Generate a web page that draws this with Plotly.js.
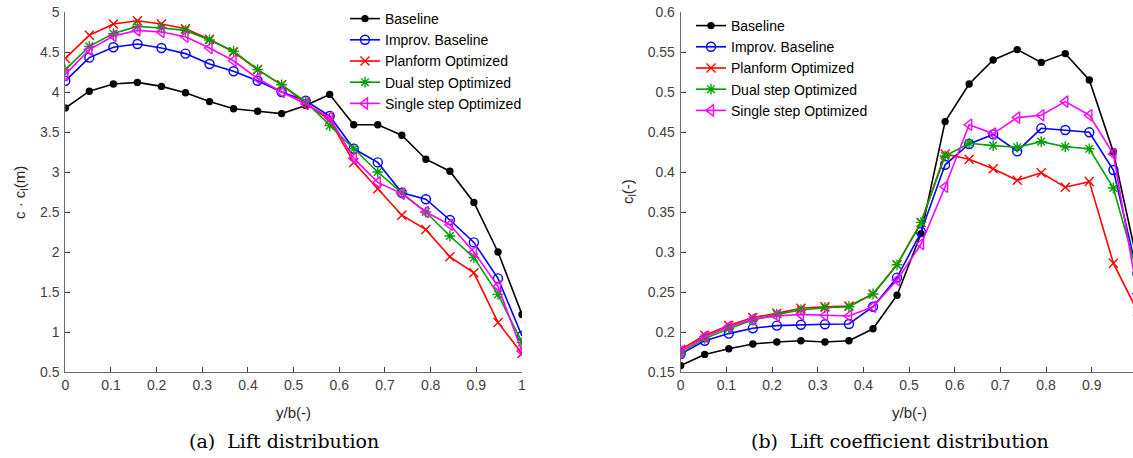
<!DOCTYPE html>
<html>
<head>
<meta charset="utf-8">
<script src="https://cdn.plot.ly/plotly-3.0.1.min.js"></script>
<style>html,body{margin:0;padding:0;background:#fff;}#chart{width:1133px;height:458px;}</style>
</head>
<body>
<div id="chart"></div>
<script>
// span positions y/b (20 stations)
const spanPos = [0, 0.0526, 0.1053, 0.1579, 0.2105, 0.2632, 0.3158, 0.3684, 0.4211, 0.4737,
                 0.5263, 0.5789, 0.6316, 0.6842, 0.7368, 0.7895, 0.8421, 0.8947, 0.9474, 1.0];

const seriesNames = ["Baseline", "Improv. Baseline", "Planform Optimized", "Dual step Optimized", "Single step Optimized"];

// (a) Lift distribution c*cl (m)
const liftBaseline = [3.80, 4.01, 4.10, 4.12, 4.07, 3.99, 3.88, 3.79, 3.76, 3.73,
                      3.83, 3.97, 3.59, 3.59, 3.46, 3.16, 3.01, 2.62, 2.00, 1.22];
const liftImprov   = [4.14, 4.43, 4.56, 4.60, 4.55, 4.48, 4.35, 4.26, 4.14, 4.00,
                      3.89, 3.70, 3.29, 3.12, 2.74, 2.66, 2.40, 2.12, 1.67, 0.95];
const liftPlanform = [4.42, 4.71, 4.85, 4.89, 4.85, 4.79, 4.66, 4.50, 4.28, 4.09,
                      3.86, 3.65, 3.12, 2.79, 2.46, 2.28, 1.94, 1.74, 1.12, 0.73];
const liftDual     = [4.28, 4.57, 4.73, 4.82, 4.80, 4.77, 4.65, 4.51, 4.28, 4.09,
                      3.88, 3.58, 3.29, 3.00, 2.74, 2.50, 2.20, 1.93, 1.47, 0.87];
const liftSingle   = [4.22, 4.53, 4.70, 4.77, 4.75, 4.69, 4.55, 4.39, 4.17, 4.00,
                      3.85, 3.68, 3.17, 2.87, 2.73, 2.50, 2.34, 2.00, 1.57, 0.76];

// (b) Lift coefficient distribution cl (-)
const clBaseline = [0.158, 0.172, 0.179, 0.185, 0.1875, 0.189, 0.1875, 0.189, 0.204, 0.246,
                    0.323, 0.463, 0.510, 0.540, 0.553, 0.537, 0.548, 0.515, 0.425, 0.287];
const clImprov   = [0.1725, 0.189, 0.198, 0.2046, 0.208, 0.209, 0.2096, 0.210, 0.2316, 0.268,
                    0.325, 0.409, 0.435, 0.447, 0.426, 0.4546, 0.4525, 0.4496, 0.4025, 0.273];
const clPlanform = [0.178, 0.196, 0.208, 0.218, 0.2233, 0.2296, 0.2316, 0.2325, 0.2475, 0.284,
                    0.337, 0.4225, 0.416, 0.404, 0.3896, 0.399, 0.381, 0.388, 0.286, 0.226];
const clDual     = [0.173, 0.192, 0.204, 0.215, 0.222, 0.2275, 0.2304, 0.2316, 0.2475, 0.284,
                    0.337, 0.420, 0.436, 0.433, 0.431, 0.438, 0.4316, 0.429, 0.380, 0.273];
const clSingle   = [0.1754, 0.194, 0.2066, 0.216, 0.220, 0.222, 0.221, 0.220, 0.2316, 0.265,
                    0.310, 0.3816, 0.459, 0.448, 0.468, 0.471, 0.488, 0.471, 0.4225, 0.248];

const colors = ["#000000", "#0000ff", "#ff0000", "#00a000", "#ff00ff"];
const markerStyles = [
  {symbol: "circle", size: 6},
  {symbol: "circle-open", size: 9},
  {symbol: "x-thin-open", size: 9},
  {symbol: "asterisk-open", size: 9},
  {symbol: "triangle-left-open", size: 10}
];

const liftData = [liftBaseline, liftImprov, liftPlanform, liftDual, liftSingle];
const clData = [clBaseline, clImprov, clPlanform, clDual, clSingle];

const traces = [];
function mk(yvals, i, xa, ya, leg) {
  return {
    x: spanPos, y: yvals, xaxis: xa, yaxis: ya, type: "scatter", mode: "lines+markers",
    name: seriesNames[i], legend: leg, cliponaxis: true,
    line: {color: colors[i], width: 1.6},
    marker: {symbol: markerStyles[i].symbol, size: markerStyles[i].size, color: colors[i],
             line: {color: colors[i], width: 1.4}}
  };
}
for (let i = 0; i < 5; i++) traces.push(mk(liftData[i], i, "x", "y", "legend"));
for (let i = 0; i < 5; i++) traces.push(mk(clData[i], i, "x2", "y2", "legend2"));

const H = 458, W = 1133;
const yTop = 12, yBot = 372;
const ydom = [(H - yBot) / H, (H - yTop) / H];

const axisCommon = {
  showgrid: false, zeroline: false, showline: true, linecolor: "#6b6b6b", linewidth: 1,
  ticks: "inside", ticklen: 5, tickwidth: 1, tickcolor: "#3a3a3a",
  tickfont: {family: "Liberation Sans, Arial, sans-serif", size: 14, color: "#404040"},
  mirror: false, fixedrange: true
};

const legendFont = {family: "Liberation Sans, Arial, sans-serif", size: 14, color: "#000"};

const layout = {
  width: W, height: H,
  margin: {l: 0, r: 0, t: 0, b: 0},
  paper_bgcolor: "#ffffff", plot_bgcolor: "#ffffff",
  showlegend: true,
  xaxis: Object.assign({}, axisCommon, {domain: [65.3 / W, 522 / W], range: [0, 1], dtick: 0.1, tick0: 0, anchor: "y"}),
  yaxis: Object.assign({}, axisCommon, {domain: ydom, range: [0.5, 5], dtick: 0.5, tick0: 0.5, anchor: "x", ticklabelstandoff: 2}),
  xaxis2: Object.assign({}, axisCommon, {domain: [680.7 / W, 1], range: [0, 452.3 / 456.7], dtick: 0.1, tick0: 0, anchor: "y2"}),
  yaxis2: Object.assign({}, axisCommon, {domain: ydom, range: [0.15, 0.6], dtick: 0.05, tick0: 0.15, anchor: "x2", ticklabelstandoff: 2}),
  legend: {x: 345 / W, y: (H - 3) / H, xanchor: "left", yanchor: "top", bgcolor: "rgba(255,255,255,0)",
           borderwidth: 0, font: legendFont, tracegroupgap: 0},
  legend2: {x: 691 / W, y: (H - 10) / H, xanchor: "left", yanchor: "top", bgcolor: "rgba(255,255,255,0)",
            borderwidth: 0, font: legendFont, tracegroupgap: 0},
  annotations: [
    {text: "c · c<sub>l</sub>(m)", xref: "paper", yref: "paper", x: 20 / W, y: (H - 193) / H, textangle: -90,
     showarrow: false, xanchor: "center", yanchor: "middle",
     font: {family: "Liberation Sans, Arial, sans-serif", size: 15, color: "#262626"}},
    {text: "c<sub>l</sub>(-)", xref: "paper", yref: "paper", x: 628 / W, y: (H - 192) / H, textangle: -90,
     showarrow: false, xanchor: "center", yanchor: "middle",
     font: {family: "Liberation Sans, Arial, sans-serif", size: 15, color: "#262626"}},
    {text: "y/b(-)", xref: "paper", yref: "paper", x: 293.6 / W, y: (H - 412) / H,
     showarrow: false, xanchor: "center", yanchor: "middle",
     font: {family: "Liberation Sans, Arial, sans-serif", size: 15, color: "#262626"}},
    {text: "y/b(-)", xref: "paper", yref: "paper", x: 909 / W, y: (H - 412) / H,
     showarrow: false, xanchor: "center", yanchor: "middle",
     font: {family: "Liberation Sans, Arial, sans-serif", size: 15, color: "#262626"}},
    {text: "(a)  Lift distribution", xref: "paper", yref: "paper", x: 284 / W, y: (H - 441) / H,
     showarrow: false, xanchor: "center", yanchor: "middle",
     font: {family: "DejaVu Serif, Liberation Serif, serif", size: 19, color: "#000"}},
    {text: "(b)  Lift coefficient distribution", xref: "paper", yref: "paper", x: 900 / W, y: (H - 441) / H,
     showarrow: false, xanchor: "center", yanchor: "middle",
     font: {family: "DejaVu Serif, Liberation Serif, serif", size: 19, color: "#000"}}
  ]
};

Plotly.newPlot("chart", traces, layout, {displayModeBar: false, staticPlot: true});
</script>
</body>
</html>
